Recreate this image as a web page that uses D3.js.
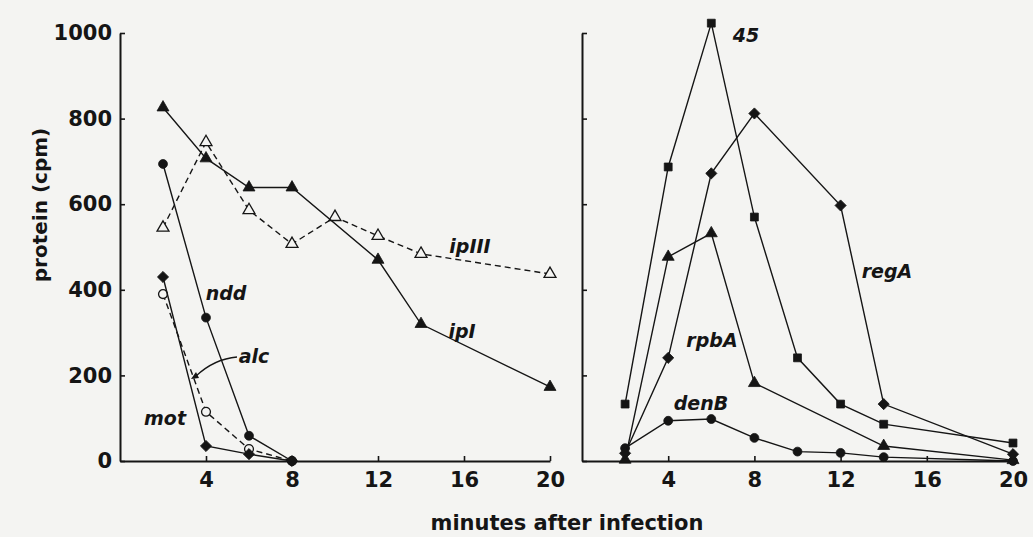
<!DOCTYPE html>
<html>
<head>
<meta charset="utf-8">
<script src="https://cdn.jsdelivr.net/npm/d3@7"></script>
<style>
  html, body { margin: 0; padding: 0; background: #f4f4f2; }
  svg { display: block; }
</style>
</head>
<body>
<svg id="chart" width="1033" height="537"></svg>
<script>
// ---------- data ----------
const xTicks = [4, 8, 12, 16, 20];
const yTicks = [0, 200, 400, 600, 800, 1000];

// left panel
const ipI_x   = [2, 4, 6, 8, 12, 14, 20];
const ipI_y   = [826, 707, 639, 639, 470, 320, 173];
const ipIII_x = [2, 4, 6, 8, 10, 12, 14, 20];
const ipIII_y = [545, 745, 586, 507, 570, 526, 484, 437];
const ndd_x   = [2, 4, 6, 8];
const ndd_y   = [694, 335, 59, 0];
const alc_x   = [2, 4, 6, 8];
const alc_y   = [390, 115, 28, 0];
const mot_x   = [2, 4, 6, 8];
const mot_y   = [430, 35, 16, 0];

// right panel
const g45_x   = [2, 4, 6, 8, 10, 12, 14, 20];
const g45_y   = [133, 687, 1023, 570, 241, 133, 86, 42];
const regA_x  = [2, 4, 6, 8, 12, 14, 20];
const regA_y  = [18, 241, 672, 812, 597, 133, 16];
const rpbA_x  = [2, 4, 6, 8, 14, 20];
const rpbA_y  = [3, 477, 532, 182, 35, 2];
const denB_x  = [2, 4, 6, 8, 10, 12, 14, 20];
const denB_y  = [30, 94, 98, 54, 22, 19, 9, 0];

// ---------- setup ----------
const INK = "#151515";
const BG = "#f4f4f2";
const svg = d3.select("#chart");
svg.append("rect").attr("width", 1033).attr("height", 537).attr("fill", BG);

const xL = d3.scaleLinear().domain([0, 20]).range([120, 550]);
const xR = d3.scaleLinear().domain([0, 20]).range([582, 1013]);
const y  = d3.scaleLinear().domain([0, 1000]).range([461, 33]);

const numFont = "'DejaVu Sans', sans-serif";

function styleAxis(g) {
  g.select(".domain").attr("stroke", INK).attr("stroke-width", 2);
  g.selectAll(".tick line").attr("stroke", INK).attr("stroke-width", 1.6);
  g.selectAll(".tick text").attr("fill", INK)
    .style("font-family", numFont).style("font-weight", "bold").style("font-size", "21px");
}

// left axes
svg.append("g").attr("transform", `translate(0,${y(0)})`)
  .call(d3.axisBottom(xL).tickValues(xTicks).tickSize(-5).tickSizeOuter(0).tickPadding(11)
        .tickFormat(d3.format("d")))
  .call(styleAxis);
svg.append("g").attr("transform", `translate(${xL(0)},0)`)
  .call(d3.axisLeft(y).tickValues(yTicks).tickSize(-5).tickSizeOuter(0).tickPadding(8)
        .tickFormat(d3.format("d")))
  .call(styleAxis);

// right axes
svg.append("g").attr("transform", `translate(0,${y(0)})`)
  .call(d3.axisBottom(xR).tickValues(xTicks).tickSize(-5).tickSizeOuter(0).tickPadding(11)
        .tickFormat(d3.format("d")))
  .call(styleAxis);
svg.append("g").attr("transform", `translate(${xR(0)},0)`)
  .call(d3.axisLeft(y).tickValues(yTicks).tickSize(-5).tickSizeOuter(0).tickFormat(""))
  .call(styleAxis);

// axis titles
svg.append("text")
  .attr("transform", `translate(47,205) rotate(-90)`)
  .attr("text-anchor", "middle")
  .style("font-family", numFont).style("font-weight", "bold").style("font-size", "20px")
  .attr("fill", INK).text("protein (cpm)");
svg.append("text")
  .attr("x", 567).attr("y", 530)
  .attr("text-anchor", "middle")
  .style("font-family", numFont).style("font-weight", "bold").style("font-size", "21px")
  .attr("fill", INK).text("minutes after infection");

// ---------- series ----------
const symMap = {
  triangle: d3.symbolTriangle,
  circle: d3.symbolCircle,
  square: d3.symbolSquare,
  diamond: d3.symbolSquare
};
const symSize = { triangle: 62, circle: 62, square: 62, diamond: 62 };

function drawSeries(xs, ys, xScale, shape, filled, dashed) {
  const pts = xs.map((v, i) => [xScale(v), y(ys[i])]);
  svg.append("path")
    .attr("d", d3.line()(pts))
    .attr("fill", "none")
    .attr("stroke", INK)
    .attr("stroke-width", 1.4)
    .attr("stroke-dasharray", dashed ? "6,4" : null);
  svg.append("g").selectAll("path")
    .data(pts)
    .join("path")
    .attr("transform", d => `translate(${d[0]},${d[1]})` + (shape === "diamond" ? " rotate(45)" : ""))
    .attr("d", d3.symbol().type(symMap[shape]).size(symSize[shape]))
    .attr("fill", filled ? INK : BG)
    .attr("stroke", INK)
    .attr("stroke-width", filled ? 0.8 : 1.3);
}

// left panel
drawSeries(ipIII_x, ipIII_y, xL, "triangle", false, true);
drawSeries(ipI_x, ipI_y, xL, "triangle", true, false);
drawSeries(alc_x, alc_y, xL, "circle", false, true);
drawSeries(mot_x, mot_y, xL, "diamond", true, false);
drawSeries(ndd_x, ndd_y, xL, "circle", true, false);

// right panel
drawSeries(denB_x, denB_y, xR, "circle", true, false);
drawSeries(rpbA_x, rpbA_y, xR, "triangle", true, false);
drawSeries(regA_x, regA_y, xR, "diamond", true, false);
drawSeries(g45_x, g45_y, xR, "square", true, false);

// ---------- labels ----------
function label(x, yy, t) {
  svg.append("text")
    .attr("x", x).attr("y", yy)
    .attr("text-anchor", "middle")
    .style("font-family", numFont).style("font-weight", "bold")
    .style("font-style", "italic").style("font-size", "19px")
    .attr("fill", INK).text(t);
}
label(226, 300, "ndd");
label(254, 363, "alc");
label(165, 425, "mot");
label(470, 253, "ipIII");
label(462, 338, "ipI");
label(746, 42, "45");
label(887, 278, "regA");
label(712, 347, "rpbA");
label(701, 410, "denB");

// alc pointer
svg.append("path")
  .attr("d", "M237,357 C225,358 210,363 196,376")
  .attr("fill", "none").attr("stroke", INK).attr("stroke-width", 1.3);
svg.append("path")
  .attr("d", "M191,379 L196,372 L199,378 Z")
  .attr("fill", INK);
</script>
</body>
</html>
